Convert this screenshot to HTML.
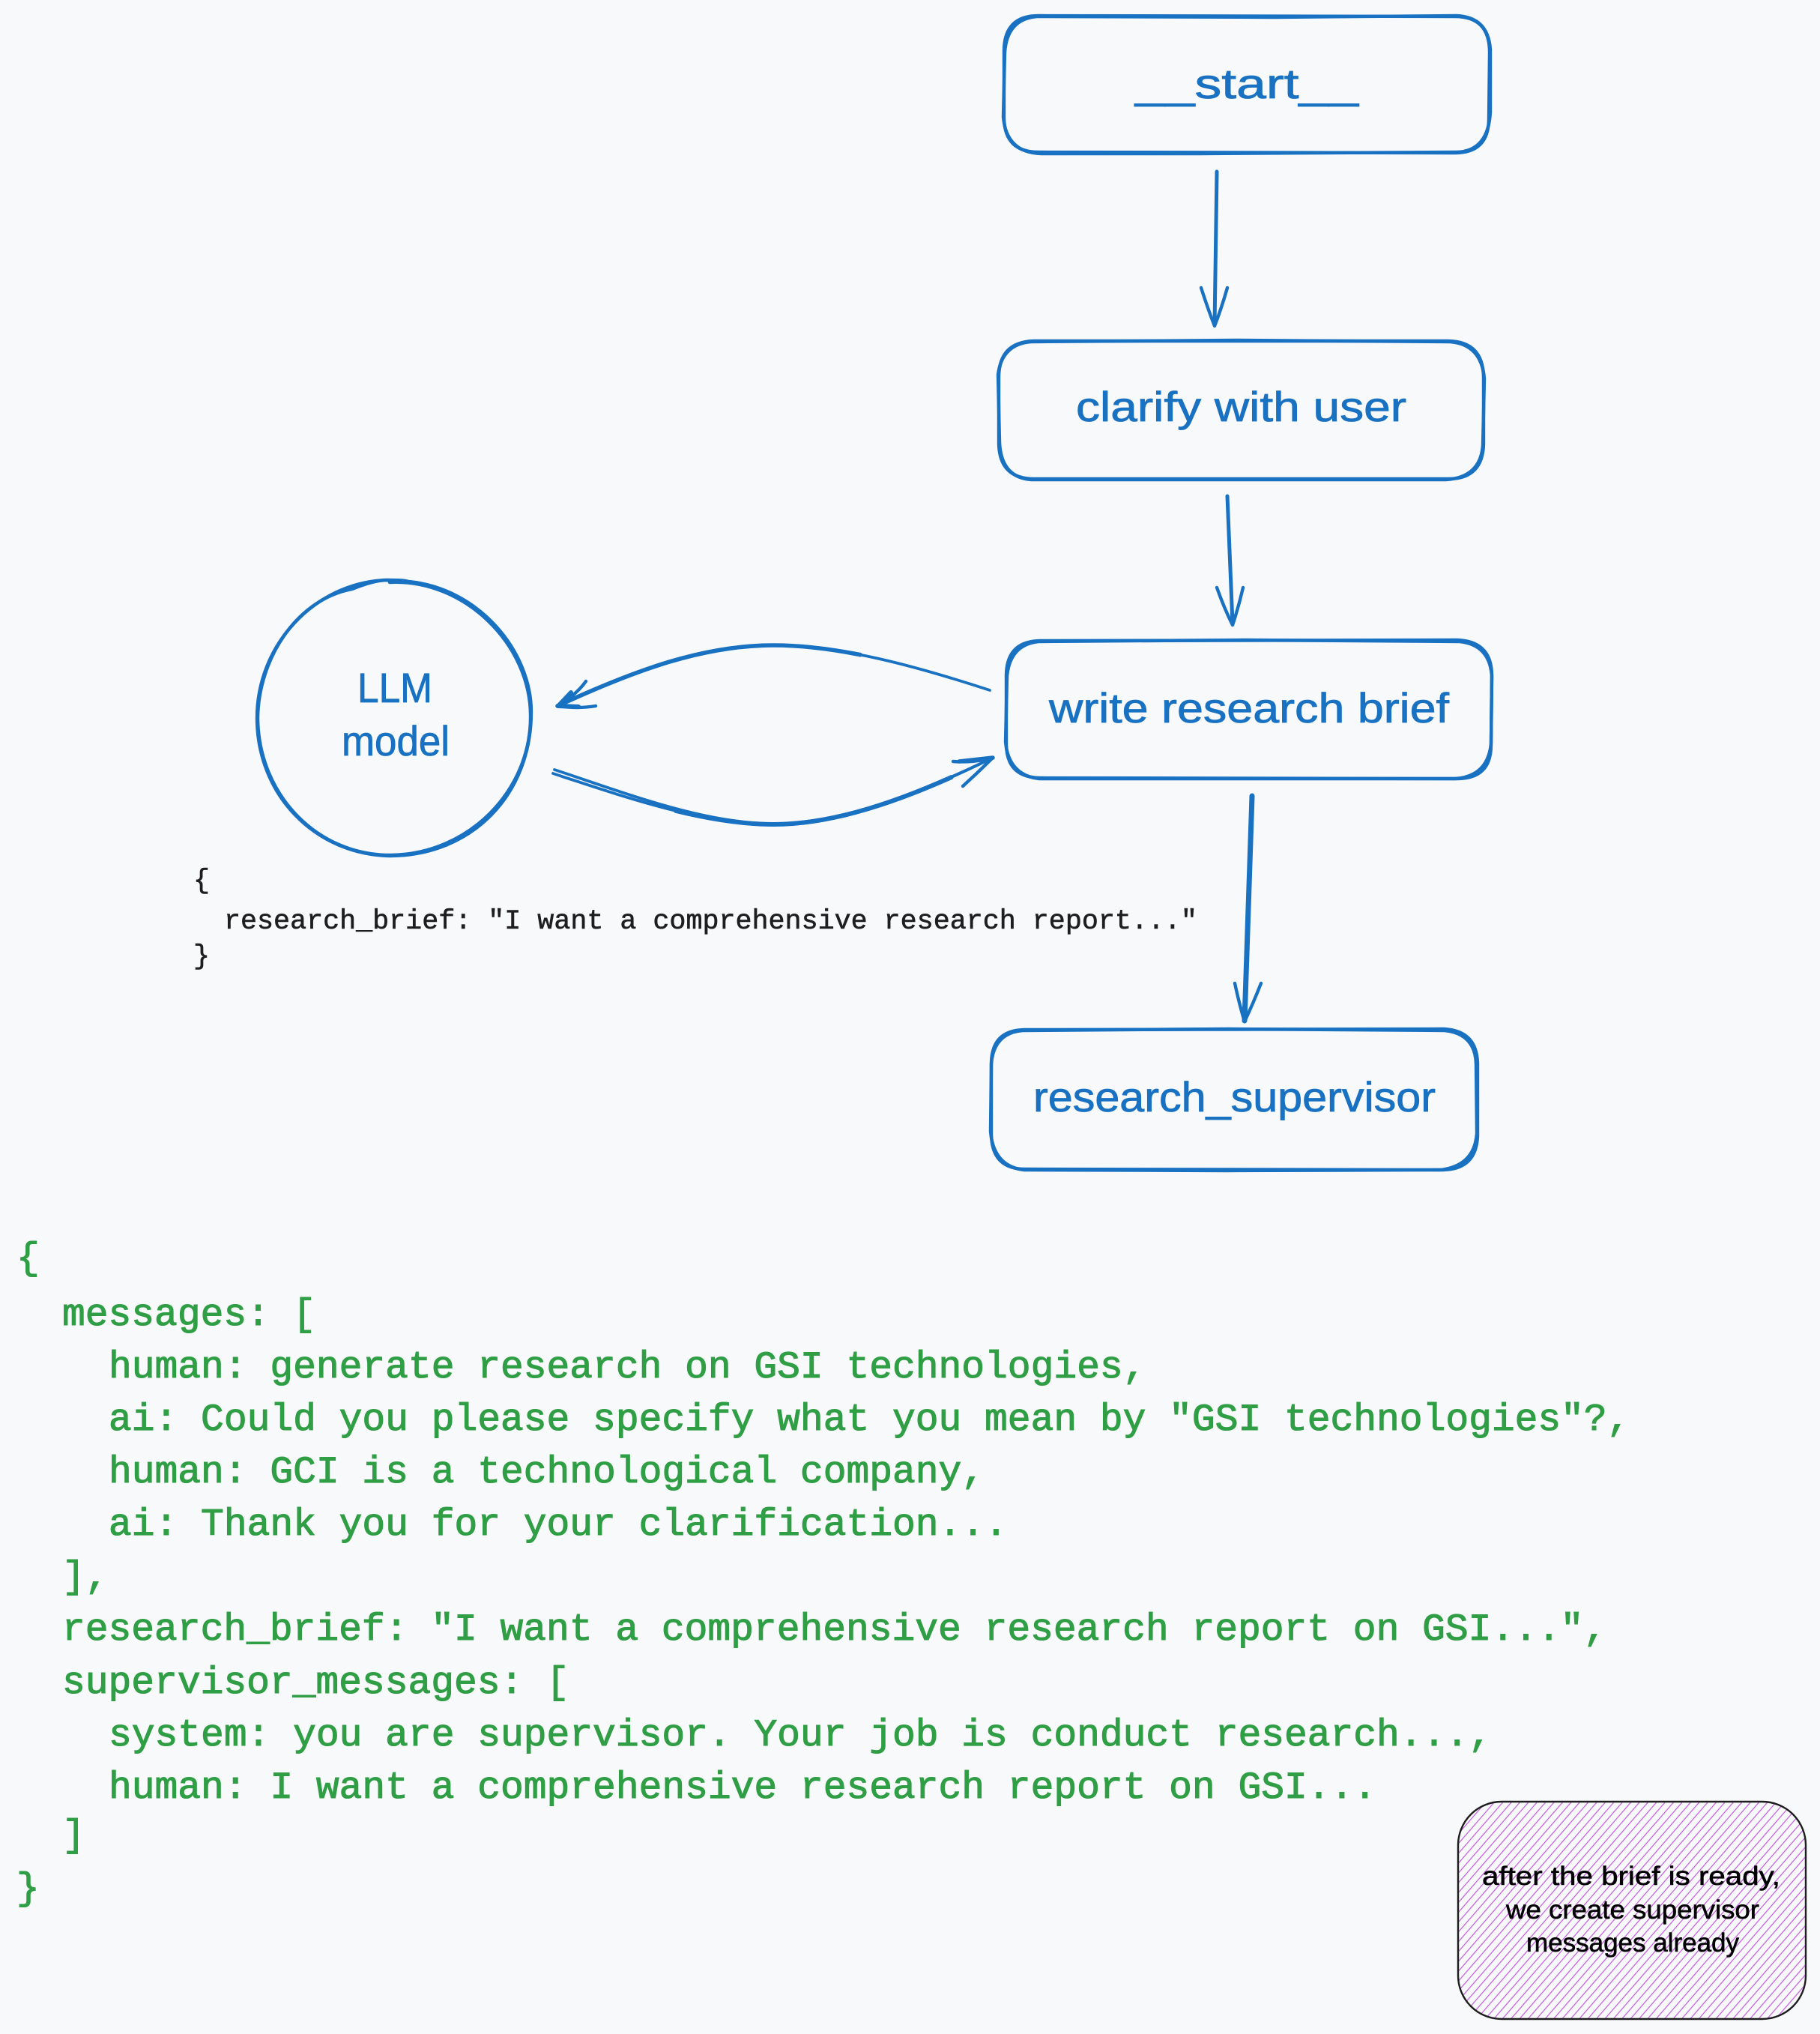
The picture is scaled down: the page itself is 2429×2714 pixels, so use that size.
<!DOCTYPE html>
<html lang="en">
<head>
<meta charset="utf-8">
<title>Research brief flow</title>
<style>
html,body{margin:0;padding:0;background:#f8f9fb;}
svg{display:block;}
.hand{font-family:"Liberation Sans",sans-serif;}
.blue{fill:#1971c2;font-size:56px;stroke:#1971c2;stroke-width:.8;}
.note{fill:#000;font-size:35px;stroke:#000;stroke-width:.6;}
.code{font-family:"Liberation Mono",monospace;white-space:pre;}
.g{fill:#2f9e44;font-size:51.28px;stroke:#2f9e44;stroke-width:1.1;}
.k{fill:#1e1e1e;font-size:36.7px;stroke:#1e1e1e;stroke-width:.6;}
.s{fill:none;stroke:#1971c2;stroke-width:4.4;stroke-linecap:round;stroke-linejoin:round;}
</style>
</head>
<body>
<svg xmlns="http://www.w3.org/2000/svg" width="2429" height="2714" viewBox="0 0 2429 2714">
<defs>
<pattern id="hatch" width="8.6" height="8.6" patternUnits="userSpaceOnUse" patternTransform="rotate(-49)">
<line x1="0" y1="4" x2="8.6" y2="4" stroke="#be4bdb" stroke-width="1.1"/>
</pattern>
</defs>
<rect width="2429" height="2714" fill="#f8f9fb"/>

<!-- __start__ -->
<path class="s" d="M1386 21 L1942 22 Q1988 22 1988 70 L1987 158 Q1987 204 1942 204 L1386 203 Q1341 203 1340 158 L1340 68 Q1340 21 1386 21 Z"/>
<path class="s" d="M1384 22 L1700 23 L1944 21 Q1986 23 1989 66 L1989 150 Q1986 202 1944 203 L1600 205 L1390 205 Q1343 204 1339 156 L1341 70 Q1344 25 1384 22 Z"/>
<text class="hand blue" x="1515" y="131" textLength="298" lengthAdjust="spacingAndGlyphs">__start__</text>

<!-- clarify with user -->
<path class="s" d="M1379 455 L1933 455 Q1979 456 1980 503 L1980 592 Q1979 639 1933 639 L1379 639 Q1334 638 1333 592 L1333 502 Q1334 457 1379 455 Z"/>
<path class="s" d="M1376 456 L1650 454 L1935 456 Q1977 459 1981 505 L1979 594 Q1976 637 1930 640 L1376 640 Q1336 637 1334 590 L1332 500 Q1337 459 1376 456 Z"/>
<text class="hand blue" x="1436" y="562" textLength="441" lengthAdjust="spacingAndGlyphs">clarify with user</text>

<!-- write research brief -->
<path class="s" d="M1388 855 L1945 854 Q1990 856 1991 900 L1990 994 Q1990 1039 1945 1039 L1388 1038 Q1344 1037 1343 994 L1343 900 Q1344 856 1388 855 Z"/>
<path class="s" d="M1386 856 L1660 854 L1948 856 Q1988 860 1991 902 L1990 992 Q1986 1036 1942 1039 L1386 1039 Q1346 1034 1342 990 L1344 902 Q1348 860 1386 856 Z"/>
<text class="hand blue" x="1400" y="964" textLength="534" lengthAdjust="spacingAndGlyphs">write research brief</text>

<!-- research_supervisor -->
<path class="s" d="M1367 1374 L1926 1373 Q1971 1375 1972 1419 L1972 1516 Q1970 1560 1926 1561 L1367 1560 Q1324 1559 1323 1514 L1323 1418 Q1324 1375 1367 1374 Z"/>
<path class="s" d="M1365 1375 L1640 1373 L1928 1375 Q1969 1379 1970 1420 L1971 1512 Q1968 1556 1922 1561 L1640 1562 L1366 1561 Q1326 1556 1322 1510 L1323 1420 Q1326 1378 1365 1375 Z"/>
<text class="hand blue" x="1379" y="1483" textLength="537" lengthAdjust="spacingAndGlyphs">research_supervisor</text>

<!-- LLM model circle -->
<path class="s" d="M545 776 C640 785 709 870 709 950 C709 1060 630 1142 520 1142 C420 1140 343 1060 343 958 C343 860 420 778 515 774 C528 774 538 774 545 776 Z"/>
<path class="s" d="M520 777 C620 772 708 860 708 955 C709 1055 625 1140 522 1141 C425 1142 345 1062 344 958 C345 880 395 800 470 786 C495 776 512 772 530 775"/>
<text class="hand blue" x="477" y="937" textLength="100" lengthAdjust="spacingAndGlyphs">LLM</text>
<text class="hand blue" x="456" y="1008" textLength="144" lengthAdjust="spacingAndGlyphs">model</text>

<!-- arrows -->
<path class="s" d="M1624 229 L1621 434" style="stroke-width:5"/>
<path class="s" d="M1603 384 Q1612 412 1621 435 Q1630 412 1638 384"/>

<path class="s" d="M1638 662 L1645 832" style="stroke-width:5"/>
<path class="s" d="M1624 784 Q1634 812 1645 834 Q1653 810 1659 784"/>

<path class="s" d="M1671 1062 L1661 1362" style="stroke-width:7"/>
<path class="s" d="M1648 1312 Q1654 1340 1661 1363 Q1672 1340 1683 1312"/>

<path class="s" d="M1321 921 C1220 888 1120 861 1032 861 C940 861 850 893 744 942" style="stroke-width:3.8"/>
<path class="s" pathLength="100" stroke-dasharray="70 100" stroke-dashoffset="-30" d="M1321 921 C1220 888 1120 861 1032 861 C940 861 850 893 744 942" style="stroke-width:5.6"/>
<path class="s" d="M782 909 Q770 926 745 942 Q770 946 795 942"/>
<path class="s" d="M762 924 L745 942 L772 943" style="stroke-width:6"/>

<path class="s" d="M740 1027 C840 1060 940 1099 1032 1099 C1120 1099 1220 1062 1325 1011" style="stroke-width:3.8"/>
<path class="s" d="M738 1032 C838 1065 940 1100 1032 1100 C1120 1100 1220 1063 1325 1011" style="stroke-width:3.8"/>
<path class="s" pathLength="100" stroke-dasharray="62 100" stroke-dashoffset="-28" d="M738 1032 C838 1065 940 1100 1032 1100 C1120 1100 1220 1063 1325 1011" style="stroke-width:6"/>
<path class="s" d="M1272 1016 Q1300 1018 1325 1011 Q1306 1030 1285 1049"/>
<path class="s" d="M1280 1016 L1325 1011" style="stroke-width:5.5"/>

<!-- small code -->
<text class="code k" x="258" y="1185">{</text>
<text class="code k" x="299" y="1239">research_brief: "I want a comprehensive research report..."</text>
<text class="code k" x="258" y="1286">}</text>

<!-- large code -->
<text class="code g" x="22" y="1693">{</text>
<text class="code g" x="83" y="1768">messages: [</text>
<text class="code g" x="145" y="1838">human: generate research on GSI technologies,</text>
<text class="code g" x="145" y="1908">ai: Could you please specify what you mean by "GSI technologies"?,</text>
<text class="code g" x="145" y="1978">human: GCI is a technological company,</text>
<text class="code g" x="145" y="2048">ai: Thank you for your clarification...</text>
<text class="code g" x="83" y="2118">],</text>
<text class="code g" x="83" y="2188">research_brief: "I want a comprehensive research report on GSI...",</text>
<text class="code g" x="83" y="2259">supervisor_messages: [</text>
<text class="code g" x="145" y="2329">system: you are supervisor. Your job is conduct research...,</text>
<text class="code g" x="145" y="2399">human: I want a comprehensive research report on GSI...</text>
<text class="code g" x="83" y="2463">]</text>
<text class="code g" x="22" y="2534">}</text>

<!-- note -->
<rect x="1946" y="2404" width="464" height="290" rx="58" ry="58" fill="url(#hatch)" stroke="#1e1e1e" stroke-width="2.4"/>
<text class="hand note" x="1978" y="2515" textLength="398" lengthAdjust="spacingAndGlyphs">after the brief is ready,</text>
<text class="hand note" x="2010" y="2560" textLength="338" lengthAdjust="spacingAndGlyphs">we create supervisor</text>
<text class="hand note" x="2037" y="2604" textLength="284" lengthAdjust="spacingAndGlyphs">messages already</text>
</svg>
</body>
</html>
